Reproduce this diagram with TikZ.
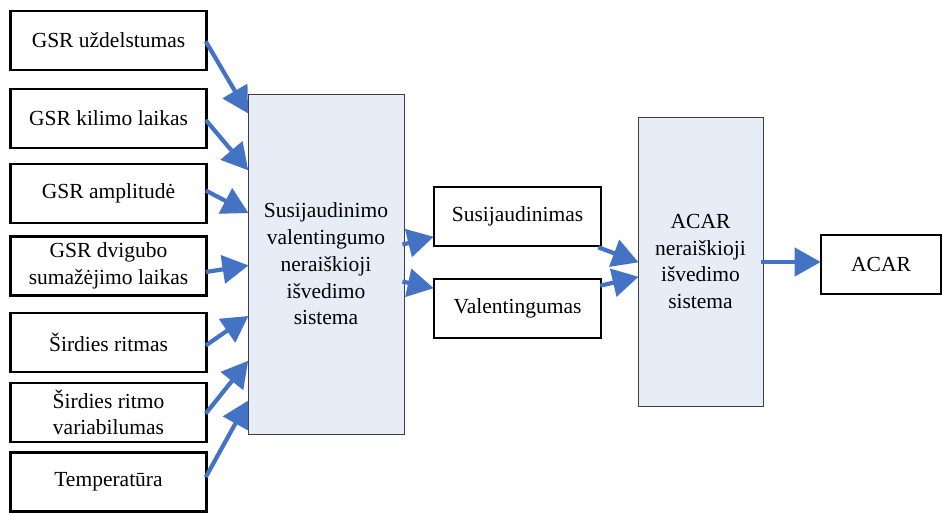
\documentclass[tikz,border=0pt]{standalone}
\usepackage{fontspec}
\setmainfont{Liberation Serif}
\usetikzlibrary{arrows.meta,calc}
\definecolor{flowblue}{HTML}{4472C4}
\definecolor{panelfill}{HTML}{E7EDF7}
\begin{document}
\begin{tikzpicture}[x=1pt,y=-1pt,
  every node/.style={font=\fontsize{21.5}{26.7}\selectfont, align=center, inner sep=0pt},
  inbox/.style={draw=black, line width=2.6pt, minimum width=196pt, minimum height=59pt},
  midbox/.style={draw=black, line width=2.6pt, minimum width=167pt, minimum height=59pt},
  panel/.style={draw=black!75, line width=0.9pt, fill=panelfill},
  flow/.style={draw=flowblue, line width=4.2pt, -{Triangle[length=26pt,width=28pt]}, shorten >=-1pt}
]
\useasboundingbox (0,0) rectangle (942,512);

% input features
\node[inbox] (u1) at (108.5,40.5) {GSR uždelstumas};
\node[inbox] (u2) at (108.5,118.5) {GSR kilimo laikas};
\node[inbox] (u3) at (108.5,193.5) {GSR amplitudė};
\node[inbox] (u4) at (108.5,266) {GSR dvigubo\\sumažėjimo laikas};
\node[inbox] (u5) at (108.5,342.5) {Širdies ritmas};
\node[inbox] (u6) at (108.5,412.5) {Širdies ritmo\\variabilumas};
\node[inbox] (u7) at (108.5,482) {Temperatūra};

% first fuzzy inference system
\node[panel, minimum width=156pt, minimum height=340pt] (fis1) at (326,264)
  {Susijaudinimo\\valentingumo\\neraiškioji\\išvedimo\\sistema};

% intermediate outputs
\node[midbox] (ar) at (517.5,216.5) {Susijaudinimas};
\node[midbox] (va) at (517.5,308.5) {Valentingumas};

% second fuzzy inference system
\node[panel, minimum width=125pt, minimum height=289pt] (fis2) at (700.5,261.5)
  {ACAR\\neraiškioji\\išvedimo\\sistema};

% final output
\node[inbox, minimum width=120pt] (out) at (881,264.5) {ACAR};

% inputs into the first system
\draw[flow] ($(u1.east)+(-2,1)$)   -- ($(fis1.north west)+(0,19)$);
\draw[flow] ($(u2.east)+(-2,1.5)$) -- ($(fis1.north west)+(0,76)$);
\draw[flow] ($(u3.east)+(-2,-3)$)  -- ($(fis1.north west)+(0,119)$);
\draw[flow] ($(u4.east)+(-2,6)$)   -- ($(fis1.north west)+(0,172)$);
\draw[flow] ($(u5.east)+(-2,3)$)   -- ($(fis1.north west)+(0,223)$);
\draw[flow] ($(u6.east)+(-2,1)$)   -- ($(fis1.north west)+(0,268)$);
\draw[flow] ($(u7.east)+(-2,-5)$)  -- ($(fis1.north west)+(0,308)$);

% first system to its outputs
\draw[flow] ($(fis1.north east)+(-2,151)$) -- ($(ar.west)+(0,20.5)$);
\draw[flow] ($(fis1.north east)+(-2,188)$) -- ($(va.west)+(0,-20.5)$);

% outputs into the second system
\draw[flow] ($(ar.south east)+(-4,0)$) -- ($(fis2.west)+(0,0.5)$);
\draw[flow] ($(va.north east)+(-2,8)$) -- ($(fis2.west)+(0,15.5)$);

% second system to final output
\draw[flow] ($(fis2.east)+(-2,0.5)$) -- ($(out.west)+(0,-2.5)$);
\end{tikzpicture}
\end{document}
